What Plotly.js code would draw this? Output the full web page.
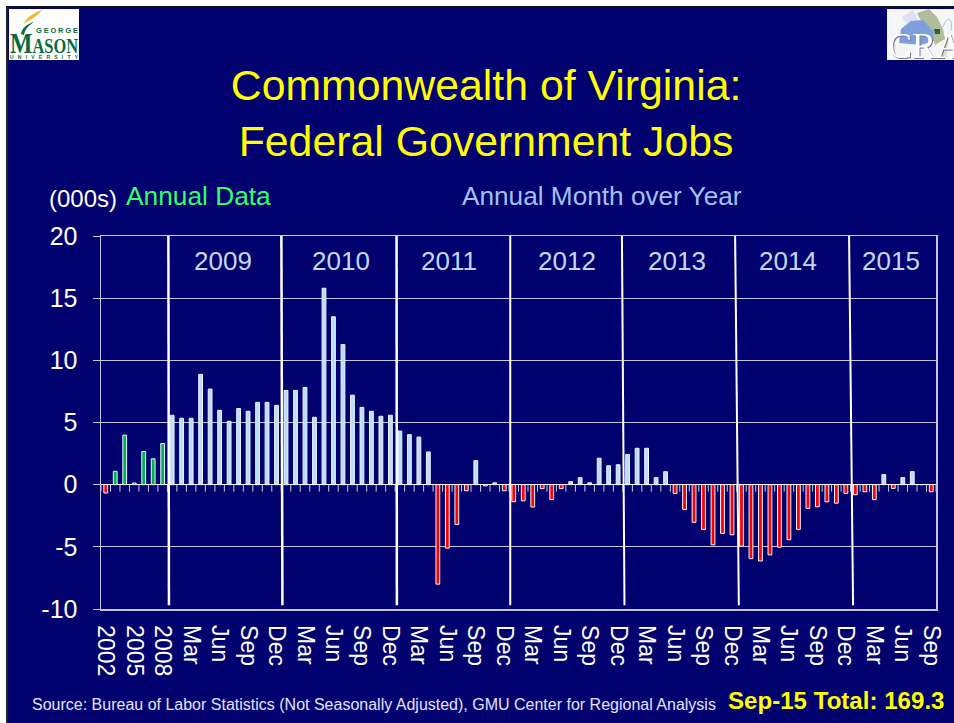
<!DOCTYPE html>
<html>
<head>
<meta charset="utf-8">
<script src="https://cdn.plot.ly/plotly-3.0.1.min.js"></script>
<style>
html,body{margin:0;padding:0;background:#fff;width:954px;height:723px;overflow:hidden}
#chart{position:absolute;left:0;top:0;width:954px;height:723px}
.ov{position:absolute}
</style>
</head>
<body>
<div id="chart"></div>
<div class="ov" style="left:0;top:0;width:954px;height:6px;background:#fff"></div>
<div class="ov" style="left:0;top:0;width:6px;height:723px;background:#fff"></div>
<div class="ov" style="left:6px;top:6px;width:948px;height:2px;background:#111"></div>
<div class="ov" style="left:6px;top:6px;width:1.5px;height:717px;background:#222"></div>
<svg class="ov" style="left:9px;top:9px" width="70" height="51" viewBox="0 0 70 51">
  <rect width="70" height="51" fill="#fff"/>
  <path d="M15 15 C17 9 24 4 33 1 C29 7 24 9 21 11 C19 12 17 13 15 15Z" fill="#f2b632"/>
  <path d="M12 25 C13 19 18 15 25 13 C19 17 16 20 15 26Z" fill="#0a6b3a"/>
  <text x="27" y="24" font-family="Liberation Sans" font-weight="bold" font-size="7.5" fill="#0a6b3a" textLength="42" lengthAdjust="spacing">GEORGE</text>
  <text x="1" y="44" font-family="Liberation Serif" font-weight="bold" fill="#0a6b3a" textLength="68" lengthAdjust="spacingAndGlyphs"><tspan font-size="29">M</tspan><tspan font-size="20">ASON</tspan></text>
  <text x="1" y="49.5" font-family="Liberation Sans" font-weight="bold" font-size="5" fill="#0a6b3a" textLength="68" lengthAdjust="spacing">UNIVERSITY</text>
</svg>
<svg class="ov" style="left:887px;top:9px" width="67" height="51" viewBox="0 0 67 51">
  <rect width="67" height="51" fill="#f6f6f6"/>
  <path d="M15 8 L26 1 L32 12 L20 16Z" fill="#dfe0f2"/>
  <path d="M30 4 L42 0 L50 8 L56 20 L58 30 L48 36 L44 20 L34 12Z" fill="#b3bc9a"/>
  <path d="M14 20 L24 12 L36 11 L46 22 L47 32 L34 36 L12 34Z" fill="#7f9fdc"/>
  <path d="M47 20 L53 20 L53 25 L48 25Z" fill="#1f6a3a"/>
  <path d="M55 36 L62 22 L60 48 L56 48Z" fill="#dfe2cd"/>
  <path d="M56 18 C60 6 66 8 64 22" stroke="#9cc7e0" stroke-width="1" fill="none"/>
  <text x="1" y="49" font-family="Liberation Serif" font-size="36" fill="#ffffff" style="filter:drop-shadow(1px 1px 0 #6f7890)">CRA</text>
</svg>
<script>
// Annual data, thousands of jobs
const annualYears = ["2002","2003","2004","2005","2006","2007","2008"];
const annualValues = [-0.67,1.07,3.98,0.13,2.67,2.08,3.31];

// Month-over-year change, thousands of jobs, Jan 2009 - Sep 2015
const monthNames = ["Jan","Feb","Mar","Apr","May","Jun","Jul","Aug","Sep","Oct","Nov","Dec"];
const values2009 = [5.58,5.34,5.34,8.87,7.69,5.98,5.10,6.12,5.90,6.62,6.62,6.38];
const values2010 = [7.58,7.58,7.82,5.42,15.8,13.5,11.27,7.2,6.22,5.9,5.5,5.58];
const values2011 = [4.31,4.02,3.83,2.63,-8.0,-5.1,-3.2,-0.49,1.93,-0.1,0.15,-0.49];
const values2012 = [-1.37,-1.3,-1.8,-0.32,-1.2,-0.32,0.24,0.56,0.15,2.13,1.52,1.6];
const values2013 = [2.43,2.93,2.93,0.56,1.04,-0.7,-2.0,-3.03,-3.6,-4.84,-3.92,-4.03];
const values2014 = [-4.95,-5.95,-6.14,-5.65,-5.03,-4.43,-3.6,-1.9,-1.78,-1.38,-1.49,-0.7];
const values2015 = [-0.81,-0.57,-1.2,0.81,-0.3,0.57,1.05,0,-0.57];

const yearLabels = ["2009","2010","2011","2012","2013","2014","2015"];
const yTickValues = [-10,-5,0,5,10,15,20];
const yTickLabels = ["-10","-5","0","5","10","15","20"];
// Year labels and slightly hand-drawn dividers, in category-index units
const yearLabelAt = [12.33,24.77,36.2,48.6,60.2,71.9,82.8];
const dividerTop = [6.6,18.51,30.65,42.63,54.4,66.33,78.34];
const dividerBottom = [6.66,18.62,30.68,42.63,54.67,66.72,78.76];
const dividerWidth = [2.5,2.5,2.5,2,2,2,2];

const monthlyValues = [].concat(values2009,values2010,values2011,values2012,values2013,values2014,values2015);
const monthlyLabels = monthlyValues.map((_, i) => monthNames[i % 12]);
const categories = annualYears.concat(monthlyLabels);
const allIdx = categories.map((_, i) => i);
const labelIdx = allIdx.filter(i => i % 3 === 0);

const RED = "#ff0000", LIGHT = "#bcdcff", GREEN = "#00b050", FONT = "Liberation Sans, Arial, sans-serif";
const barLine = {color:"#eef6ff", width:1};
const TICK_DEPTH = -0.56;   // depth of the category tick marks under the zero line

// Category boundary marks hanging from the zero line
const tickX = [], tickY = [];
categories.concat([""]).forEach((_, i) => { tickX.push(i - 0.5, i - 0.5, null); tickY.push(0, TICK_DEPTH, null); });

const traces = [
  {type:"bar", name:"Annual Data", x:annualValues.map((_, i) => i), y:annualValues, width:0.4,
   marker:{color:annualValues.map(v => v < 0 ? RED : GREEN), line:barLine}},
  {type:"bar", name:"Annual Month over Year", x:monthlyValues.map((_, i) => i + annualValues.length), y:monthlyValues, width:0.4,
   marker:{color:monthlyValues.map(v => v < 0 ? RED : LIGHT), line:barLine}},
  {type:"scatter", mode:"lines", name:"ticks", x:tickX, y:tickY, line:{color:"#d0d0ea", width:1}, hoverinfo:"skip", showlegend:false, connectgaps:false}
];

const GRID = "#c4c4dc";
const axisRange = [-0.5, categories.length - 0.5];
const shapes = yearLabels.map((_, i) => ({
  type:"line", layer:"above", xref:"x", yref:"y",
  x0:dividerTop[i], x1:dividerBottom[i], y0:20, y1:-9.7,
  line:{color:"#ffffff", width:dividerWidth[i]}
}));

const ann = (x, y, text, size, color, extra) => Object.assign(
  {xref:"paper", yref:"paper", x:(x-100.5)/836, y:(609.5-y)/373.5, text, showarrow:false,
   xanchor:"left", yanchor:"bottom", borderpad:0, font:{family:FONT, size, color}}, extra || {});

const annotations = [
  ann(47, 213, "(000s)", 24, "#ffffff"),
  ann(125, 212, "Annual Data", 26.3, "#33ff66"),
  ann(461, 212, "Annual Month over Year", 26.2, "#a3c0f5"),
  ann(30, 715, "Source: Bureau of Labor Statistics (Not Seasonally Adjusted), GMU Center for Regional Analysis", 16, "#e4e4ff"),
  ann(727, 716, "<b>Sep-15 Total: 169.3</b>", 24.1, "#ffff00")
].concat(yearLabels.map((t, i) => ({
  xref:"x", yref:"y", x:yearLabelAt[i], y:18, text:t, showarrow:false, yanchor:"middle",
  font:{family:FONT, size:26, color:"#c4d8f8"}
})));

const layout = {
  width:954, height:723,
  margin:{l:100.5, r:17.5, t:236, b:113.5, pad:0},
  paper_bgcolor:"#00006e", plot_bgcolor:"#00006e",
  showlegend:false, barmode:"overlay", bargap:0.5,
  font:{family:FONT, color:"#ffffff"},
  title:{text:"Commonwealth of Virginia:<br>Federal Government Jobs", x:0.5095, xanchor:"center", y:0.8615, yanchor:"middle",
         font:{family:FONT, size:42.8, color:"#ffff00"}},
  xaxis:{range:axisRange, anchor:"y", side:"bottom", tickmode:"array",
         tickvals:labelIdx, ticktext:labelIdx.map(i => categories[i]),
         tickangle:90, ticks:"", ticklabelstandoff:10,
         tickfont:{family:FONT, size:23, color:"#ffffff"},
         showline:true, linecolor:GRID, linewidth:1.5, mirror:true, showgrid:false, zeroline:false},
  yaxis:{range:[-10,20], tickmode:"array", tickvals:yTickValues, ticktext:yTickLabels, ticks:"outside", ticklen:7, tickwidth:1, tickcolor:GRID,
         tickfont:{family:FONT, size:25, color:"#ffffff"}, ticklabelstandoff:10,
         showline:true, linecolor:GRID, linewidth:1.5, mirror:true,
         showgrid:true, gridcolor:GRID, gridwidth:1,
         zeroline:true, zerolinecolor:"#ffffff", zerolinewidth:1.5},
  shapes, annotations
};

Plotly.newPlot("chart", traces, layout, {displayModeBar:false, staticPlot:true});
</script>
</body>
</html>
